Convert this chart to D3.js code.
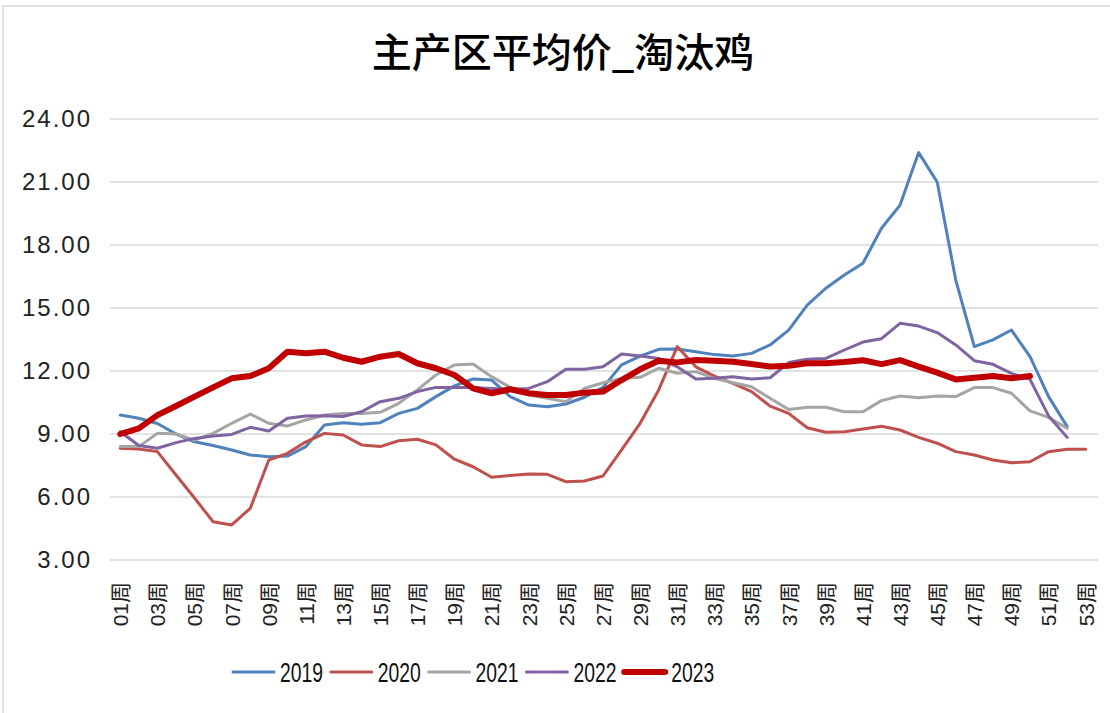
<!DOCTYPE html>
<html>
<head>
<meta charset="utf-8">
<script src="https://cdn.jsdelivr.net/npm/d3@7"></script>
<style>
  body { margin: 0; background: #fff; }
  svg { display: block; }
</style>
</head>
<body>
<div id="chart"></div>
<script>
// weekly average price, culled hens (主产区平均价_淘汰鸡)
const weeks = d3.range(1, 54).map(w => (w < 10 ? "0" + w : "" + w) + "周");
const yTicks = [3, 6, 9, 12, 15, 18, 21, 24];
const years = ["2019", "2020", "2021", "2022", "2023"];

const s2019 = [9.9, 9.75, 9.5, 9.0, 8.63, 8.45, 8.24, 8.0, 7.92, 7.95, 8.4, 9.43, 9.54, 9.46, 9.54, 9.98,
  10.22, 10.78, 11.29, 11.62, 11.57, 10.78, 10.38, 10.3, 10.43, 10.75, 11.22, 12.29, 12.71, 13.03, 13.05, 12.92,
  12.78, 12.71, 12.84, 13.24, 13.95, 15.14, 15.94, 16.57, 17.13, 18.8, 19.9, 22.4, 21.0, 16.33, 13.16, 13.48,
  13.95, 12.68, 10.78, 9.35];
const s2020 = [8.32, 8.29, 8.16, 7.05, 5.95, 4.82, 4.67, 5.46, 7.76, 8.08, 8.63, 9.03, 8.95, 8.48, 8.4, 8.68,
  8.75, 8.48, 7.8, 7.44, 6.94, 7.02, 7.1, 7.08, 6.73, 6.76, 7.0, 8.24, 9.51, 11.1, 13.16, 12.2,
  11.76, 11.41, 11.02, 10.33, 9.98, 9.3, 9.08, 9.11, 9.24, 9.37, 9.19, 8.84, 8.56, 8.16, 8.0, 7.76,
  7.63, 7.68, 8.16, 8.27, 8.27];
const s2021 = [8.4, 8.4, 9.03, 9.0, 8.71, 9.03, 9.51, 9.95, 9.51, 9.38, 9.67, 9.9, 9.98, 9.98, 10.03, 10.46,
  11.1, 11.81, 12.29, 12.33, 11.73, 11.22, 10.86, 10.7, 10.54, 11.17, 11.44, 11.65, 11.7, 12.13, 11.89, 11.97,
  11.65, 11.44, 11.25, 10.7, 10.17, 10.27, 10.27, 10.06, 10.06, 10.59, 10.81, 10.73, 10.81, 10.78, 11.21, 11.21,
  10.94, 10.1, 9.79, 9.27];
const s2022 = [9.11, 8.45, 8.32, 8.59, 8.79, 8.9, 8.98, 9.32, 9.14, 9.75, 9.86, 9.87, 9.83, 10.06, 10.54, 10.7,
  11.02, 11.22, 11.22, 11.22, 11.17, 11.13, 11.17, 11.49, 12.08, 12.08, 12.2, 12.81, 12.71, 12.6, 12.2, 11.62,
  11.65, 11.73, 11.62, 11.68, 12.4, 12.56, 12.6, 13.0, 13.38, 13.54, 14.27, 14.14, 13.83, 13.24, 12.49, 12.32,
  11.89, 11.6, 9.86, 8.84];
const s2023 = [9.0, 9.27, 9.9, 10.33, 10.78, 11.22, 11.65, 11.76, 12.13, 12.92, 12.84, 12.92, 12.63, 12.44, 12.68, 12.81,
  12.37, 12.13, 11.81, 11.17, 10.94, 11.13, 10.94, 10.86, 10.86, 10.97, 11.02, 11.57, 12.08, 12.49, 12.41, 12.52,
  12.49, 12.44, 12.33, 12.21, 12.25, 12.37, 12.37, 12.43, 12.51, 12.33, 12.52, 12.21, 11.92, 11.6, 11.68, 11.76,
  11.65, 11.76];

const series = [s2019, s2020, s2021, s2022, s2023];
const colors = ["#4f81bd", "#c0504d", "#a5a5a5", "#8064a2", "#c00000"];
const widths = [3, 3, 3, 3, 6];

const W = 1110, H = 713;
const svg = d3.select("#chart").append("svg").attr("width", W).attr("height", H);

// outer frame
svg.append("rect")
  .attr("x", 3).attr("y", 6).attr("width", W + 10).attr("height", H + 10)
  .attr("fill", "none").attr("stroke", "#d9d9d9").attr("stroke-width", 1.5);

svg.append("text")
  .attr("x", 563).attr("y", 67)
  .attr("text-anchor", "middle")
  .attr("font-family", "'Noto Sans CJK SC', sans-serif")
  .attr("font-size", 40)
  .attr("font-weight", 500)
  .attr("fill", "#000")
  .text("主产区平均价_淘汰鸡");

const x = d3.scalePoint().domain(weeks).range([111, 1095]).padding(0.5);
const y = d3.scaleLinear().domain([3, 24]).range([560, 119]);

// gridlines
svg.append("g").selectAll("line").data(yTicks).enter().append("line")
  .attr("x1", 110).attr("x2", 1098)
  .attr("y1", d => y(d)).attr("y2", d => y(d))
  .attr("stroke", "#d9d9d9").attr("stroke-width", 1.5);

// y axis labels
const yAxis = d3.axisLeft(y).tickValues(yTicks).tickSize(0).tickPadding(0)
  .tickFormat(d => d3.format(".2f")(d));
const yg = svg.append("g").attr("transform", "translate(92,0)").call(yAxis);
yg.select(".domain").remove();
yg.selectAll("text")
  .attr("font-family", "'Liberation Sans', sans-serif")
  .attr("font-size", 24)
  .attr("fill", "#222")
  .attr("letter-spacing", 2);

// x axis labels, rotated
const xAxis = d3.axisBottom(x).tickSize(0).tickPadding(0)
  .tickValues(weeks.filter((d, i) => i % 2 === 0));
const xg = svg.append("g").attr("transform", "translate(0,582)").call(xAxis);
xg.select(".domain").remove();
xg.selectAll("text")
  .attr("font-family", "'Liberation Sans', 'Noto Sans CJK SC', sans-serif")
  .attr("font-size", 21)
  .attr("fill", "#222")
  .attr("text-anchor", "end")
  .attr("dy", "0.35em")
  .attr("transform", "rotate(-90)")
  .attr("x", 0).attr("y", 0);

// lines
const line = d3.line()
  .x((d, i) => x(weeks[i]))
  .y(d => y(d));

svg.append("g").selectAll("path").data(series).enter().append("path")
  .attr("d", d => line(d))
  .attr("fill", "none")
  .attr("stroke", (d, i) => colors[i])
  .attr("stroke-width", (d, i) => widths[i])
  .attr("stroke-linejoin", "round")
  .attr("stroke-linecap", "round");

// legend (condensed digits like the original)
const lg = svg.append("g").attr("transform", "translate(233,672)");
const item = lg.selectAll("g").data(years).enter().append("g")
  .attr("transform", (d, i) => `translate(${i * 97.8},0)`);
item.append("line")
  .attr("x1", 0).attr("x2", 41).attr("y1", 0).attr("y2", 0)
  .attr("stroke", (d, i) => colors[i])
  .attr("stroke-width", (d, i) => widths[i])
  .attr("stroke-linecap", "round");
item.append("text")
  .attr("x", 47).attr("y", 0).attr("dy", "0.36em")
  .attr("font-family", "'Liberation Sans', sans-serif")
  .attr("font-size", 27)
  .attr("textLength", 43)
  .attr("lengthAdjust", "spacingAndGlyphs")
  .attr("fill", "#111")
  .text(d => d);
</script>
</body>
</html>
